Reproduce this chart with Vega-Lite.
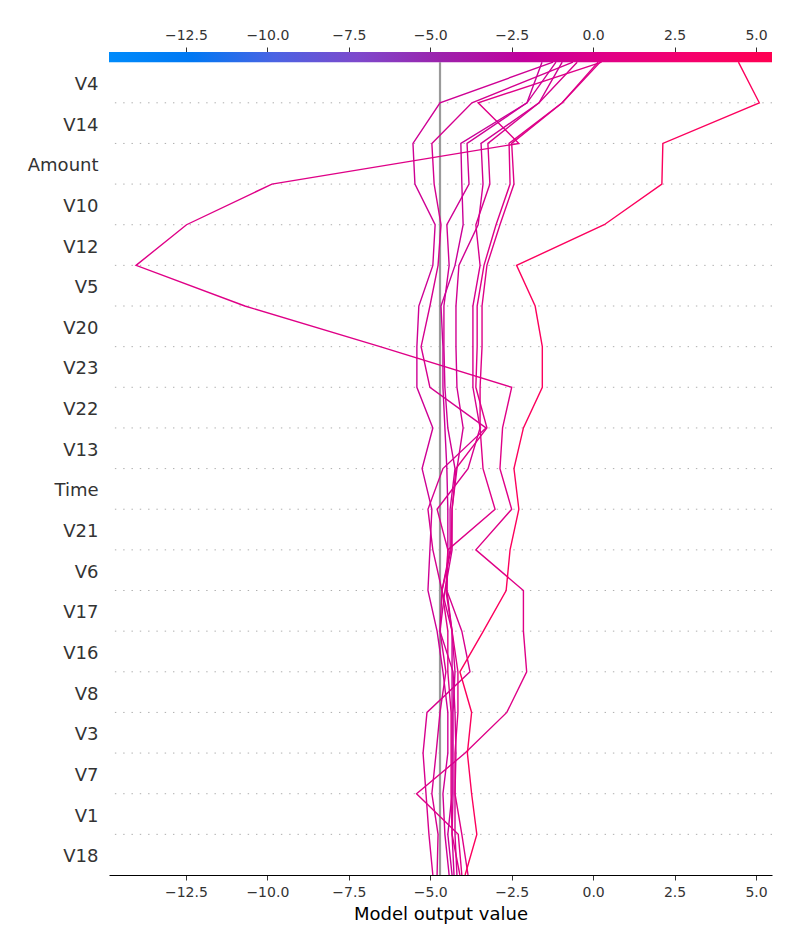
{
  "$schema": "https://vega.github.io/schema/vega-lite/v6.json",
  "width": 663,
  "height": 823,
  "autosize": {"type": "none"},
  "padding": {"left": 109, "top": 52, "right": 28, "bottom": 75},
  "background": "white",
  "config": {"font": "DejaVu Sans", "view": {"stroke": null}},
  "datasets": {
    "steps": [
      {"k": 0, "L1": -4.42, "L2": -4.79, "L3": -4.03, "L4": -4.33, "L5": -4.27, "L6": -4.18, "L7": -4.92, "L8": -4.09, "L9": -3.84, "A": -3.93},
      {"k": 1, "L1": -4.55, "L2": -4.76, "L3": -4.14, "L4": -4.46, "L5": -4.33, "L6": -4.24, "L7": -5.04, "L8": -4.33, "L9": -4.03, "A": -3.57},
      {"k": 2, "L1": -4.61, "L2": -4.95, "L3": -5.42, "L4": -4.33, "L5": -4.30, "L6": -4.24, "L7": -5.13, "L8": -4.36, "L9": -4.24, "A": -3.73},
      {"k": 3, "L1": -4.46, "L2": -4.82, "L3": -3.93, "L4": -4.33, "L5": -4.30, "L6": -4.21, "L7": -5.22, "L8": -4.36, "L9": -4.24, "A": -3.86},
      {"k": 4, "L1": -4.46, "L2": -4.70, "L3": -2.65, "L4": -4.33, "L5": -4.30, "L6": -4.24, "L7": -5.10, "L8": -4.36, "L9": -4.15, "A": -3.73},
      {"k": 5, "L1": -4.61, "L2": -4.52, "L3": -2.04, "L4": -4.33, "L5": -4.24, "L6": -4.30, "L7": -3.78, "L8": -4.46, "L9": -4.15, "A": -4.09},
      {"k": 6, "L1": -4.79, "L2": -4.70, "L3": -2.14, "L4": -4.33, "L5": -4.33, "L6": -4.70, "L7": -4.03, "L8": -4.46, "L9": -4.33, "A": -3.37},
      {"k": 7, "L1": -5.07, "L2": -4.64, "L3": -2.14, "L4": -4.49, "L5": -4.64, "L6": -4.55, "L7": -4.49, "L8": -4.64, "L9": -4.52, "A": -2.67},
      {"k": 8, "L1": -5.01, "L2": -4.92, "L3": -3.60, "L4": -4.46, "L5": -4.39, "L6": -4.33, "L7": -4.46, "L8": -4.36, "L9": -4.46, "A": -2.55},
      {"k": 9, "L1": -4.95, "L2": -5.07, "L3": -2.50, "L4": -4.46, "L5": -4.39, "L6": -4.33, "L7": -4.79, "L8": -4.33, "L9": -3.01, "A": -2.28},
      {"k": 10, "L1": -5.25, "L2": -4.61, "L3": -2.86, "L4": -4.49, "L5": -4.24, "L6": -4.18, "L7": -3.84, "L8": -4.21, "L9": -3.38, "A": -2.43},
      {"k": 11, "L1": -4.92, "L2": -3.29, "L3": -2.78, "L4": -4.55, "L5": -4.46, "L6": -3.99, "L7": -3.47, "L8": -3.26, "L9": -3.47, "A": -2.14},
      {"k": 12, "L1": -5.41, "L2": -5.01, "L3": -2.50, "L4": -4.61, "L5": -4.55, "L6": -4.18, "L7": -3.69, "L8": -3.60, "L9": -3.47, "A": -1.56},
      {"k": 13, "L1": -5.41, "L2": -5.28, "L3": -6.54, "L4": -4.61, "L5": -4.58, "L6": -4.21, "L7": -3.69, "L8": -3.56, "L9": -3.41, "A": -1.56},
      {"k": 14, "L1": -5.35, "L2": -5.01, "L3": -10.69, "L4": -4.67, "L5": -4.58, "L6": -4.21, "L7": -3.69, "L8": -3.56, "L9": -3.41, "A": -1.78},
      {"k": 15, "L1": -4.92, "L2": -4.76, "L3": -14.03, "L4": -4.24, "L5": -4.42, "L6": -4.12, "L7": -3.47, "L8": -3.35, "L9": -3.26, "A": -2.35},
      {"k": 16, "L1": -4.85, "L2": -4.67, "L3": -12.48, "L4": -3.99, "L5": -4.49, "L6": -3.53, "L7": -3.60, "L8": -2.98, "L9": -2.86, "A": 0.34},
      {"k": 17, "L1": -5.47, "L2": -4.88, "L3": -9.86, "L4": -4.03, "L5": -3.81, "L6": -3.38, "L7": -3.17, "L8": -2.55, "L9": -2.43, "A": 2.11},
      {"k": 18, "L1": -5.53, "L2": -4.95, "L3": -2.28, "L4": -4.06, "L5": -3.87, "L6": -3.44, "L7": -3.23, "L8": -2.58, "L9": -2.50, "A": 2.14},
      {"k": 19, "L1": -4.70, "L2": -3.72, "L3": -3.53, "L4": -2.03, "L5": -2.03, "L6": -1.66, "L7": -1.66, "L8": -0.95, "L9": -0.95, "A": 5.10},
      {"k": 20, "L1": -1.23, "L2": -0.62, "L3": 0.26, "L4": -1.57, "L5": -1.14, "L6": -0.95, "L7": -0.49, "L8": 0.15, "L9": 0.21, "A": 4.46}
    ],
    "outputs": [
      {"line": "L1", "out": -1.23},
      {"line": "L2", "out": -0.62},
      {"line": "L3", "out": 0.26},
      {"line": "L4", "out": -1.57},
      {"line": "L5", "out": -1.14},
      {"line": "L6", "out": -0.95},
      {"line": "L7", "out": -0.49},
      {"line": "L8", "out": 0.15},
      {"line": "L9", "out": 0.21},
      {"line": "A", "out": 4.46}
    ],
    "base": [{"value": -4.70}],
    "colorbar": [{"lo": -14.86, "hi": 5.49}]
  },
  "resolve": {"axis": {"x": "independent", "y": "independent"}},
  "layer": [
    {
      "data": {"name": "steps"},
      "transform": [{"filter": "datum.k >= 1 && datum.k <= 19"}],
      "mark": {"type": "rule", "stroke": "#999999", "strokeWidth": 0.8, "strokeDash": [1.4, 6.9]},
      "encoding": {
        "y": {"field": "k", "type": "quantitative", "scale": {"domain": [0, 20.25], "nice": false, "zero": false}, "axis": null}
      }
    },
    {
      "data": {"name": "base"},
      "mark": {"type": "rule", "stroke": "#9a9a9a", "strokeWidth": 2.2},
      "encoding": {
        "x": {"field": "value", "type": "quantitative", "scale": {"domain": [-14.86, 5.49], "nice": false, "zero": false}, "axis": null},
        "y": {"datum": 0, "type": "quantitative", "scale": {"domain": [0, 20.25], "nice": false, "zero": false}, "axis": null},
        "y2": {"datum": 20}
      }
    },
    {
      "data": {"name": "steps"},
      "transform": [
        {"fold": ["L1", "L2", "L3", "L4", "L5", "L6", "L7", "L8", "L9", "A"], "as": ["line", "value"]},
        {"lookup": "line", "from": {"data": {"name": "outputs"}, "key": "line", "fields": ["out"]}}
      ],
      "mark": {"type": "line", "strokeWidth": 1.4},
      "encoding": {
        "x": {
          "field": "value", "type": "quantitative",
          "scale": {"domain": [-14.86, 5.49], "nice": false, "zero": false},
          "axis": {
            "orient": "bottom",
            "values": [-12.5, -10, -7.5, -5, -2.5, 0, 2.5, 5],
            "labelExpr": "replace(format(datum.value, '.1f'), '-', '\u2212')",
            "labelFontSize": 14, "labelColor": "#333333", "labelPadding": 5,
            "tickColor": "#333333", "tickSize": 5, "tickWidth": 1,
            "domainColor": "#000000", "domainWidth": 1,
            "grid": false,
            "title": "Model output value", "titleFontSize": 18, "titleFontWeight": "normal", "titleColor": "#000000", "titlePadding": 6
          }
        },
        "y": {
          "field": "k", "type": "quantitative",
          "scale": {"domain": [0, 20.25], "nice": false, "zero": false},
          "axis": {
            "values": [0.5, 1.5, 2.5, 3.5, 4.5, 5.5, 6.5, 7.5, 8.5, 9.5, 10.5, 11.5, 12.5, 13.5, 14.5, 15.5, 16.5, 17.5, 18.5, 19.5],
            "labelExpr": "['V18','V1','V7','V3','V8','V16','V17','V6','V21','Time','V13','V22','V23','V20','V5','V12','V10','Amount','V14','V4'][floor(datum.value)]",
            "domain": false, "ticks": false, "tickSize": 0, "grid": false,
            "labelFontSize": 18, "labelColor": "#333333", "labelPadding": 11, "labelOffset": 2,
            "title": null
          }
        },
        "detail": {"field": "line"},
        "order": {"field": "k", "type": "quantitative"},
        "color": {
          "field": "out", "type": "quantitative", "legend": null,
          "scale": {
            "domain": [-14.86, -12.32, -9.77, -7.23, -4.685, -2.14, 0.40, 2.95, 5.49],
            "range": ["#008bfb", "#0078f3", "#4b63e3", "#7d49cc", "#9c22ac", "#c2009c", "#e00086", "#f5006d", "#ff0051"]
          }
        }
      }
    },
    {
      "data": {"name": "colorbar"},
      "mark": {
        "type": "rect",
        "fill": {
          "gradient": "linear", "x1": 0, "y1": 0, "x2": 1, "y2": 0,
          "stops": [
            {"offset": 0, "color": "#008bfb"},
            {"offset": 0.125, "color": "#0078f3"},
            {"offset": 0.25, "color": "#4b63e3"},
            {"offset": 0.375, "color": "#7d49cc"},
            {"offset": 0.5, "color": "#9c22ac"},
            {"offset": 0.625, "color": "#c2009c"},
            {"offset": 0.75, "color": "#e00086"},
            {"offset": 0.875, "color": "#f5006d"},
            {"offset": 1, "color": "#ff0051"}
          ]
        }
      },
      "encoding": {
        "x": {
          "field": "lo", "type": "quantitative",
          "scale": {"domain": [-14.86, 5.49], "nice": false, "zero": false},
          "axis": {
            "orient": "top",
            "values": [-12.5, -10, -7.5, -5, -2.5, 0, 2.5, 5],
            "labelExpr": "replace(format(datum.value, '.1f'), '-', '\u2212')",
            "labelFontSize": 14, "labelColor": "#333333", "labelPadding": 5,
            "tickColor": "#333333", "tickSize": 5, "tickWidth": 1,
            "domain": false, "grid": false, "title": null
          }
        },
        "x2": {"field": "hi"},
        "y": {"datum": 20, "type": "quantitative", "scale": {"domain": [0, 20.25], "nice": false, "zero": false}, "axis": null},
        "y2": {"datum": 20.25}
      }
    }
  ]
}
